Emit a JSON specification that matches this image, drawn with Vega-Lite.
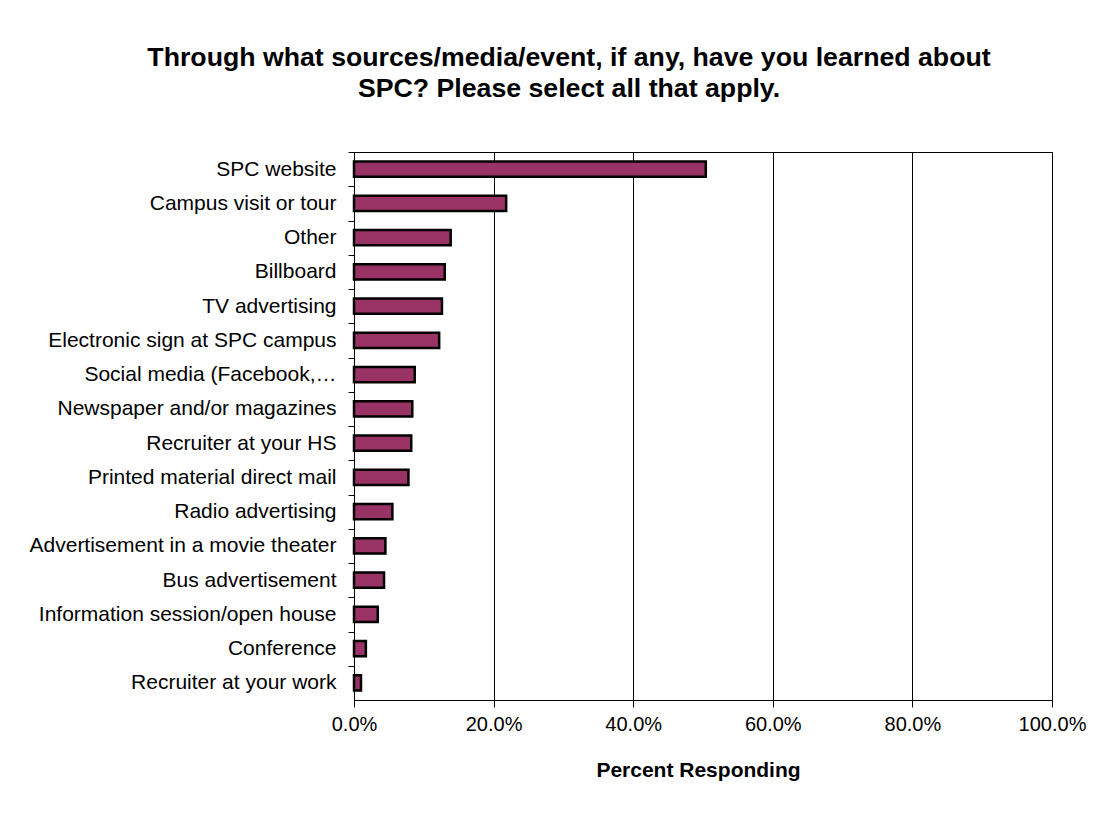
{
  "$schema": "https://vega.github.io/schema/vega-lite/v6.json",
  "width": 698,
  "height": 548,
  "autosize": {"type": "none"},
  "padding": {"left": 354, "top": 152, "right": 61, "bottom": 123},
  "background": "white",
  "title": {
    "text": ["Through what sources/media/event, if any, have you learned about", "SPC? Please select all that apply."],
    "font": "Liberation Sans",
    "fontSize": 26.7,
    "fontWeight": "bold",
    "color": "#000",
    "lineHeight": 31,
    "anchor": "middle",
    "dx": -134,
    "offset": 49
  },
  "data": {
    "values": [
      {"source": "SPC website", "pct": 0.504},
      {"source": "Campus visit or tour", "pct": 0.218},
      {"source": "Other", "pct": 0.1385},
      {"source": "Billboard", "pct": 0.130},
      {"source": "TV advertising", "pct": 0.126},
      {"source": "Electronic sign at SPC campus", "pct": 0.122},
      {"source": "Social media (Facebook,…", "pct": 0.087},
      {"source": "Newspaper and/or magazines", "pct": 0.0835},
      {"source": "Recruiter at your HS", "pct": 0.082},
      {"source": "Printed material direct mail", "pct": 0.078},
      {"source": "Radio advertising", "pct": 0.055},
      {"source": "Advertisement in a movie theater", "pct": 0.045},
      {"source": "Bus advertisement", "pct": 0.043},
      {"source": "Information session/open house", "pct": 0.034},
      {"source": "Conference", "pct": 0.017},
      {"source": "Recruiter at your work", "pct": 0.010}
    ]
  },
  "mark": {"type": "bar", "fill": "#993366", "stroke": "#000", "strokeWidth": 2.5},
  "encoding": {
    "y": {
      "field": "source",
      "type": "nominal",
      "sort": null,
      "scale": {"paddingInner": 0.56, "paddingOuter": 0.28},
      "axis": {
        "title": null,
        "tickOffset": -17.125,
        "labelOffset": 17.125,
        "tickSize": 6,
        "labelPadding": 12,
        "labelFont": "Liberation Sans",
        "labelFontSize": 21,
        "labelColor": "#000",
        "labelLimit": 400,
        "domainColor": "#000",
        "tickColor": "#000",
        "grid": false
      }
    },
    "x": {
      "field": "pct",
      "type": "quantitative",
      "scale": {"domain": [0, 1], "nice": false},
      "axis": {
        "values": [0, 0.2, 0.4, 0.6, 0.8, 1],
        "format": ".1%",
        "grid": true,
        "gridColor": "#000",
        "gridOpacity": 1,
        "domainColor": "#000",
        "tickColor": "#000",
        "tickSize": 7,
        "labelFlush": false,
        "labelPadding": 7,
        "labelFont": "Liberation Sans",
        "labelFontSize": 20,
        "labelColor": "#000",
        "title": "Percent Responding",
        "titleFont": "Liberation Sans",
        "titleFontSize": 21,
        "titleFontWeight": "bold",
        "titleColor": "#000",
        "titlePadding": 25,
        "titleX": 344
      }
    }
  },
  "config": {"view": {"stroke": "#000", "strokeWidth": 1}}
}
